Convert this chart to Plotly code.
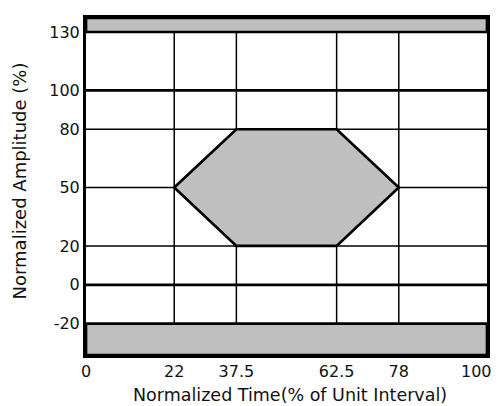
import plotly.graph_objects as go

# ---- data ----
x_ticks = [0, 22, 37.5, 62.5, 78, 100]
x_tick_text = ["0", "22", "37.5", "62.5", "78", "100"]
y_ticks = [-20, 0, 20, 50, 80, 100, 130]
y_tick_text = ["-20", "0", "20", "50", "80", "100", "130"]
x_grid = [22, 37.5, 62.5, 78]          # thin vertical lines
y_thin = [20, 50, 80]                  # thin horizontal lines
y_thick = [0, 100]                     # thick horizontal lines
mask_x = [22, 37.5, 62.5, 78, 62.5, 37.5, 22]
mask_y = [50, 80, 80, 50, 20, 20, 50]
upper_limit = 130
lower_limit = -20
x_range = [0, 100]
y_range = [-36.1, 137.2]

GRAY = "#bfbfbf"
FONT = "DejaVu Sans"
TXT = "#111111"

fig = go.Figure()

# forbidden bands
fig.add_trace(go.Scatter(
    x=[x_range[0], x_range[1], x_range[1], x_range[0], x_range[0]],
    y=[upper_limit, upper_limit, y_range[1], y_range[1], upper_limit],
    fill="toself", fillcolor=GRAY, mode="lines",
    line=dict(color="black", width=2.7), hoverinfo="skip", showlegend=False))
fig.add_trace(go.Scatter(
    x=[x_range[0], x_range[1], x_range[1], x_range[0], x_range[0]],
    y=[lower_limit, lower_limit, y_range[0], y_range[0], lower_limit],
    fill="toself", fillcolor=GRAY, mode="lines",
    line=dict(color="black", width=2.7), hoverinfo="skip", showlegend=False))

# eye mask hexagon
fig.add_trace(go.Scatter(
    x=mask_x, y=mask_y, fill="toself", fillcolor=GRAY, mode="lines",
    line=dict(color="black", width=2.7), hoverinfo="skip", showlegend=False))

shapes = []
for xv in x_grid:
    shapes.append(dict(type="line", xref="x", yref="y", x0=xv, x1=xv,
                       y0=lower_limit, y1=upper_limit, layer="below",
                       line=dict(color="black", width=1.5)))
for yv in y_thin:
    shapes.append(dict(type="line", xref="x", yref="y", x0=x_range[0], x1=x_range[1],
                       y0=yv, y1=yv, layer="below",
                       line=dict(color="black", width=1.5)))
for yv in y_thick:
    shapes.append(dict(type="line", xref="x", yref="y", x0=x_range[0], x1=x_range[1],
                       y0=yv, y1=yv, layer="below",
                       line=dict(color="black", width=2.7)))

# last x tick label is drawn pulled in from the edge (as in the reference)
axis_tick_text = x_tick_text[:-1] + [""]

fig.update_layout(
    width=491, height=398,
    margin=dict(l=78, r=12, t=7, b=51),
    paper_bgcolor="white", plot_bgcolor="white",
    font=dict(family=FONT, size=16, color=TXT),
    shapes=shapes,
    showlegend=False,
    xaxis=dict(range=x_range, tickvals=x_ticks, ticktext=axis_tick_text,
               showgrid=False, zeroline=False, ticks="",
               showline=True, mirror=True, linecolor="black", linewidth=3,
               ticklabelstandoff=0),
    yaxis=dict(range=y_range, tickvals=y_ticks, ticktext=y_tick_text,
               showgrid=False, zeroline=False, ticks="",
               showline=True, mirror=True, linecolor="black", linewidth=3,
               ticklabelstandoff=0),
    annotations=[
        dict(text=x_tick_text[-1], xref="x", yref="paper",
             x=x_ticks[-1], y=0, xanchor="center", yanchor="middle",
             xshift=-11, yshift=-16, showarrow=False,
             font=dict(family=FONT, size=16, color=TXT)),
        dict(text="Normalized Time(% of Unit Interval)", xref="paper", yref="paper",
             x=0.509, y=-0.12, xanchor="center", yanchor="middle",
             showarrow=False, font=dict(family=FONT, size=17.5, color=TXT)),
        dict(text="Normalized Amplitude (%)", xref="paper", yref="paper",
             x=-0.167, y=0.515, xanchor="center", yanchor="middle", textangle=-90,
             showarrow=False, font=dict(family=FONT, size=18, color=TXT)),
    ],
)

fig.write_html("out.html")
